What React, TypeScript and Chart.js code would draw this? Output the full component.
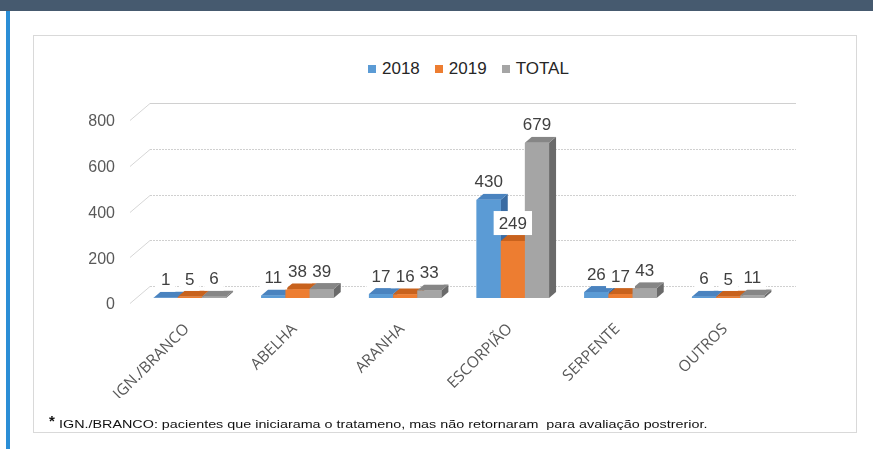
import React, { useEffect, useRef } from "react";
import { Chart, registerables } from "chart.js";

Chart.register(...registerables);

const categories = ["IGN./BRANCO", "ABELHA", "ARANHA", "ESCORPIÃO", "SERPENTE", "OUTROS"];
const series2018 = [1, 11, 17, 430, 26, 6];
const series2019 = [5, 38, 16, 249, 17, 5];
const seriesTotal = [6, 39, 33, 679, 43, 11];
const seriesNames = ["2018", "2019", "TOTAL"];
const yTicks = [0, 200, 400, 600, 800];
const footnote = "IGN./BRANCO: pacientes que iniciarama o tratameno, mas não retornaram  para avaliação postrerior.";

const FRONT = ["#5B9BD5", "#ED7D31", "#A5A5A5"];
const TOP = ["#4A83BF", "#C8621D", "#868686"];
const SIDE = ["#3A6CA3", "#A8521A", "#6A6A6A"];
const DX = 7;
const DY = -6;
const ARIAL = "'Liberation Sans', Arial, sans-serif";

const threeD = {
  id: "threeD",
  beforeDatasetsDraw(chart: any) {
    const { ctx, chartArea, scales } = chart;
    const y = scales.y;
    ctx.save();
    ctx.lineWidth = 1;
    yTicks.forEach((v) => {
      const py = Math.round(y.getPixelForValue(v)) + 0.5;
      const fx = chartArea.left - 6;
      const fy = py + 5;
      const wx = chartArea.left + 14;
      const wy = py - 12;
      ctx.strokeStyle = "#d6d6d6";
      ctx.setLineDash([]);
      ctx.beginPath();
      ctx.moveTo(fx, fy);
      ctx.lineTo(wx, wy);
      ctx.stroke();
      ctx.strokeStyle = "#d0d0d0";
      ctx.setLineDash(v === 800 ? [] : [2, 1]);
      ctx.beginPath();
      ctx.moveTo(wx, wy);
      ctx.lineTo(chartArea.right + 14, wy);
      ctx.stroke();
    });
    ctx.restore();
  },
  afterDatasetsDraw(chart: any) {
    const { ctx } = chart;
    const metas = [0, 1, 2].map((i) => chart.getDatasetMeta(i));
    ctx.save();
    categories.forEach((_, ci) => {
      metas.forEach((meta: any, di: number) => {
        const bar = meta.data[ci];
        const { x, y, base, width } = bar.getProps(["x", "y", "base", "width"], true);
        const l = x - width / 2;
        const r = x + width / 2;
        ctx.fillStyle = SIDE[di];
        ctx.beginPath();
        ctx.moveTo(r, y);
        ctx.lineTo(r + DX, y + DY);
        ctx.lineTo(r + DX, base + DY);
        ctx.lineTo(r, base);
        ctx.closePath();
        ctx.fill();
        ctx.fillStyle = TOP[di];
        ctx.beginPath();
        ctx.moveTo(l, y);
        ctx.lineTo(l + DX, y + DY);
        ctx.lineTo(r + DX, y + DY);
        ctx.lineTo(r, y);
        ctx.closePath();
        ctx.fill();
        bar.draw(ctx, chart.chartArea);
      });
    });
    // data labels
    ctx.font = `17px ${ARIAL}`;
    ctx.textAlign = "center";
    ctx.textBaseline = "middle";
    const items: any[] = [];
    categories.forEach((_, ci) => {
      metas.forEach((meta: any, di: number) => {
        const bar = meta.data[ci];
        const { x, y } = bar.getProps(["x", "y"], true);
        const text = String(chart.data.datasets[di].data[ci]);
        const w = ctx.measureText(text).width;
        items.push({ x, y: y - 18, text, w });
      });
    });
    ctx.fillStyle = "#ffffff";
    items.forEach((it) => ctx.fillRect(it.x - it.w / 2 - 5, it.y - 12, it.w + 10, 24));
    ctx.fillStyle = "#404040";
    items.forEach((it) => ctx.fillText(it.text, it.x, it.y + 1));
    ctx.restore();
  },
};

export default function App() {
  const ref = useRef<HTMLCanvasElement>(null);
  useEffect(() => {
    if (!ref.current) return;
    const data = [series2018, series2019, seriesTotal];
    const chart = new Chart(ref.current, {
      type: "bar",
      data: {
        labels: categories,
        datasets: seriesNames.map((name, i) => ({
          label: name,
          data: data[i],
          backgroundColor: FRONT[i],
          borderWidth: 0,
          categoryPercentage: 0.673,
          barPercentage: 1,
        })),
      },
      options: {
        responsive: false,
        animation: false,
        devicePixelRatio: 1,
        layout: { padding: { top: 115, left: 0, right: 91, bottom: 51 } },
        plugins: { legend: { display: false }, tooltip: { enabled: false } },
        scales: {
          x: {
            grid: { display: false, drawTicks: false },
            border: { display: false },
            ticks: {
              autoSkip: false,
              minRotation: 45,
              maxRotation: 45,
              padding: 22,
              labelOffset: -3,
              color: "#595959",
              font: { family: "'Open Sans', sans-serif", size: 15.5 },
            },
            afterFit(s: any) {
              s.height = 100;
            },
          },
          y: {
            min: 0,
            max: 800,
            grid: { display: false, drawTicks: false },
            border: { display: false },
            ticks: {
              stepSize: 200,
              padding: 21,
              labelOffset: 7,
              color: "#595959",
              font: { family: ARIAL, size: 16 },
            },
            afterFit(s: any) {
              s.width = 136;
            },
          },
        },
      },
      plugins: [threeD],
    } as any);
    return () => chart.destroy();
  }, []);

  const legendItems = seriesNames.map((n, i) => (
    <div key={n} style={{ display: "flex", alignItems: "center", marginRight: i < 2 ? 15 : 0 }}>
      <div style={{ width: 8, height: 8, background: FRONT[i], marginRight: 6 }} />
      <span>{n}</span>
    </div>
  ));

  return (
    <div style={{ position: "absolute", left: 0, top: 0, width: 873, height: 449, background: "#fff", overflow: "hidden" }}>
      <div style={{ position: "absolute", left: 0, top: 0, width: 873, height: 11, background: "#465a6f" }} />
      <div style={{ position: "absolute", left: 6, top: 11, width: 4, height: 438, background: "#2b8ed6" }} />
      <div style={{ position: "absolute", left: 33, top: 35, width: 822, height: 396, border: "1px solid #d9d9d9", background: "#fff" }} />
      <div
        style={{
          position: "absolute",
          left: 368,
          top: 59,
          display: "flex",
          alignItems: "center",
          fontFamily: ARIAL,
          fontSize: 17,
          color: "#262626",
          lineHeight: "20px",
        }}
      >
        {legendItems}
      </div>
      <canvas ref={ref} width={873} height={449} style={{ position: "absolute", left: 0, top: 0, display: "block" }} />
      <div
        style={{
          position: "absolute",
          left: 49,
          top: 413,
          fontFamily: ARIAL,
          fontSize: 15,
          fontWeight: "bold",
          color: "#111",
          lineHeight: "16px",
        }}
      >
        *
      </div>
      <div
        style={{
          position: "absolute",
          left: 59,
          top: 418,
          fontFamily: ARIAL,
          fontSize: 10,
          color: "#111",
          whiteSpace: "pre",
          lineHeight: "14px",
          transform: "scaleX(1.435)",
          transformOrigin: "0 0",
        }}
      >
        {footnote}
      </div>
    </div>
  );
}
